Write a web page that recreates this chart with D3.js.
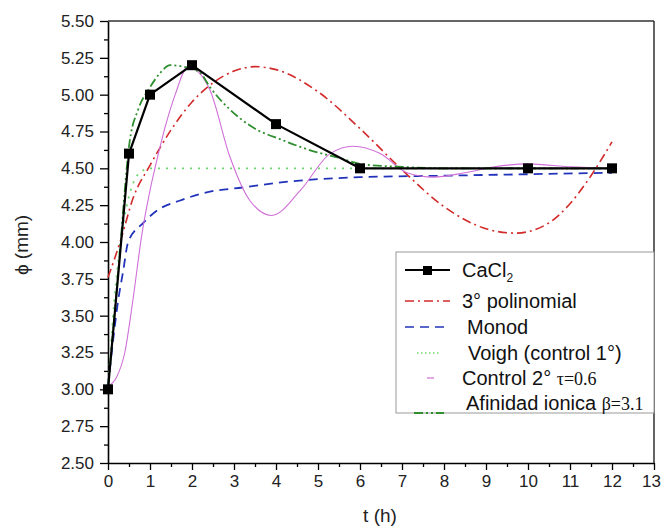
<!DOCTYPE html>
<html>
<head>
<meta charset="utf-8">
<script src="https://cdn.jsdelivr.net/npm/d3@7"></script>
<style>
  body { margin: 0; background: #fff; }
  text { font-family: "Liberation Sans", Arial, sans-serif; }
</style>
</head>
<body>
<div id="chart"></div>
<script>
// values
var tCa = [0, 0.5, 1, 2, 4, 6, 10, 12];
var phiCa = [3.00, 4.60, 5.00, 5.20, 4.80, 4.50, 4.50, 4.50];

var tPoly = [0, 0.3, 0.6, 1, 1.5, 2, 2.5, 3, 3.5, 4, 5, 6, 7, 8, 9, 9.7, 10.5, 11, 11.5, 12];
var phiPoly = [3.76, 4.01, 4.30, 4.52, 4.76, 4.95, 5.08, 5.16, 5.19, 5.17, 5.02, 4.77, 4.49, 4.24, 4.09, 4.06, 4.13, 4.26, 4.45, 4.68];

var tMonod = [0, 0.12, 0.24, 0.36, 0.48, 0.84, 1.2, 1.7, 2.4, 3.2, 4.3, 6, 8, 10, 12];
var phiMonod = [3.02, 3.33, 3.60, 3.80, 4.00, 4.13, 4.22, 4.28, 4.34, 4.37, 4.41, 4.44, 4.45, 4.46, 4.47];

var tVoigh = [0, 0.15, 0.3, 0.45, 0.6, 0.8, 1, 2, 4, 6, 8, 10, 12];
var phiVoigh = [3.00, 3.60, 4.00, 4.25, 4.40, 4.48, 4.50, 4.50, 4.50, 4.50, 4.50, 4.50, 4.50];

var tCtrl2 = [0, 0.2, 0.4, 0.6, 0.8, 1.0, 1.2, 1.4, 1.6, 1.9, 2.2, 2.43, 2.9, 3.38, 3.9, 4.58, 5.29, 5.84, 6.48, 7.12, 7.75, 8.5, 9.2, 10, 11, 12];
var phiCtrl2 = [3.02, 3.08, 3.25, 3.62, 4.04, 4.35, 4.60, 4.82, 5.00, 5.19, 5.14, 5.03, 4.58, 4.28, 4.18, 4.35, 4.60, 4.65, 4.60, 4.47, 4.44, 4.47, 4.51, 4.53, 4.51, 4.50];

var tIon = [0, 0.25, 0.52, 0.72, 1.0, 1.25, 1.48, 1.79, 2.19, 2.43, 2.9, 3.38, 4.17, 4.96, 5.52, 6, 7, 8, 10, 12];
var phiIon = [3.00, 3.82, 4.69, 4.90, 5.05, 5.15, 5.20, 5.19, 5.15, 5.05, 4.90, 4.79, 4.69, 4.61, 4.57, 4.53, 4.51, 4.50, 4.50, 4.50];

var xTicks = d3.range(0, 14, 1);
var yTicks = d3.range(2.5, 5.51, 0.25);

var width = 662, height = 527;
var margin = {top: 21, right: 8, bottom: 64, left: 108};

var svg = d3.select("#chart").append("svg")
    .attr("width", width)
    .attr("height", height);

svg.append("rect").attr("width", width).attr("height", height).attr("fill", "#fff");

var x = d3.scaleLinear().domain([0, 13]).range([margin.left, width - margin.right]);
var y = d3.scaleLinear().domain([2.5, 5.5]).range([height - margin.bottom, margin.top]);

// zip helper
function pts(ts, vs) {
    return ts.map(function(t, i){ return [t, vs[i]]; });
}

// axes: minor ticks first, then major with labels
svg.append("g")
    .attr("transform", "translate(0," + y(2.5) + ")")
    .call(d3.axisBottom(x).tickValues(d3.range(0.5, 13, 1)).tickSize(4).tickFormat(""))
    .call(function(g){ g.select(".domain").remove(); g.selectAll("line").attr("stroke-width", 1.3); });

var xAxis = svg.append("g")
    .attr("transform", "translate(0," + y(2.5) + ")")
    .call(d3.axisBottom(x).tickValues(xTicks).tickSize(7).tickSizeOuter(0).tickPadding(5).tickFormat(d3.format("d")));
xAxis.select(".domain").attr("stroke-width", 1.6);
xAxis.selectAll("line").attr("stroke-width", 1.3);
xAxis.selectAll("text").attr("font-size", 17).attr("fill", "#222")
    .attr("font-family", "Liberation Sans, Arial, sans-serif");
// last label sits on the window edge, pull it in a little
xAxis.selectAll("text").filter(function(d){ return d === 13; }).attr("dx", -3);

svg.append("g")
    .attr("transform", "translate(" + x(0) + ",0)")
    .call(d3.axisLeft(y).tickValues(d3.range(2.625, 5.5, 0.25)).tickSize(4).tickFormat(""))
    .call(function(g){ g.select(".domain").remove(); g.selectAll("line").attr("stroke-width", 1.3); });

var yAxis = svg.append("g")
    .attr("transform", "translate(" + x(0) + ",0)")
    .call(d3.axisLeft(y).tickValues(yTicks).tickSize(8).tickSizeOuter(0).tickPadding(6).tickFormat(d3.format(".2f")));
yAxis.select(".domain").attr("stroke-width", 1.6);
yAxis.selectAll("line").attr("stroke-width", 1.3);
yAxis.selectAll("text").attr("font-size", 17).attr("fill", "#222")
    .attr("font-family", "Liberation Sans, Arial, sans-serif");

// top and right frame
svg.append("line").attr("x1", x(0)).attr("x2", x(13)).attr("y1", y(5.5)).attr("y2", y(5.5))
    .attr("stroke", "#333").attr("stroke-width", 1.4);
svg.append("line").attr("x1", x(13)).attr("x2", x(13)).attr("y1", y(5.5)).attr("y2", y(2.5))
    .attr("stroke", "#222").attr("stroke-width", 1.4);

// axis titles
svg.append("text")
    .attr("x", 380).attr("y", 522)
    .attr("text-anchor", "middle").attr("font-size", 19).attr("fill", "#222")
    .text("t (h)");

svg.append("text")
    .attr("transform", "translate(28," + 245 + ") rotate(-90)")
    .attr("text-anchor", "middle").attr("font-size", 19).attr("fill", "#222")
    .text("ϕ (mm)");

var smooth = d3.line()
    .x(function(d){ return x(d[0]); })
    .y(function(d){ return y(d[1]); })
    .curve(d3.curveMonotoneX);

var straight = d3.line()
    .x(function(d){ return x(d[0]); })
    .y(function(d){ return y(d[1]); });

var series = [
    {name: "voigh", data: pts(tVoigh, phiVoigh), color: "#6fd66f", width: 1.8, dash: "2,6", gen: smooth},
    {name: "monod", data: pts(tMonod, phiMonod), color: "#2233bb", width: 1.8, dash: "9,6", gen: smooth},
    {name: "poly", data: pts(tPoly, phiPoly), color: "#d22a2a", width: 1.6, dash: "9,4,2,4", gen: smooth},
    {name: "ctrl2", data: pts(tCtrl2, phiCtrl2), color: "#d070d8", width: 1.1, dash: null, gen: smooth},
    {name: "ion", data: pts(tIon, phiIon), color: "#2f8f2f", width: 1.8, dash: "9,3,2,3,2,3", gen: smooth},
    {name: "ca", data: pts(tCa, phiCa), color: "#000", width: 2.2, dash: null, gen: straight}
];

series.forEach(function(s){
    svg.append("path")
        .attr("class", s.name + "-line")
        .attr("d", s.gen(s.data))
        .attr("fill", "none")
        .attr("stroke", s.color)
        .attr("stroke-width", s.width)
        .attr("stroke-dasharray", s.dash)
        .attr("stroke-linejoin", "round");
});

svg.append("g").selectAll("rect")
    .data(pts(tCa, phiCa))
    .enter().append("rect")
    .attr("x", function(d){ return x(d[0]) - 5; })
    .attr("y", function(d){ return y(d[1]) - 5; })
    .attr("width", 10).attr("height", 10)
    .attr("fill", "#000");

// legend
var lg = svg.append("g");
lg.append("rect")
    .attr("x", 396).attr("y", 252).attr("width", x(13) - 396).attr("height", 161)
    .attr("fill", "#fff").attr("stroke", "#999").attr("stroke-width", 1);

function legendText(xp, yp, main, sub, extra) {
    var t = lg.append("text").attr("x", xp).attr("y", yp + 7)
        .attr("font-size", 20).attr("fill", "#111");
    t.append("tspan").text(main);
    if (sub) t.append("tspan").attr("font-size", 12).attr("dy", 5).text(sub);
    if (extra) t.append("tspan").attr("font-family", "Liberation Serif, serif")
        .attr("font-size", 18).text(extra);
}

lg.append("line").attr("x1", 405).attr("x2", 450).attr("y1", 270).attr("y2", 270)
    .attr("stroke", "#000").attr("stroke-width", 2.2);
lg.append("rect").attr("x", 423).attr("y", 266).attr("width", 9).attr("height", 9).attr("fill", "#000");
legendText(462, 270, "CaCl", "2");

lg.append("line").attr("x1", 405).attr("x2", 450).attr("y1", 301).attr("y2", 301)
    .attr("stroke", "#d22a2a").attr("stroke-width", 1.6).attr("stroke-dasharray", "9,4,2,4");
legendText(462, 301, "3° polinomial");

lg.append("line").attr("x1", 405).attr("x2", 450).attr("y1", 327).attr("y2", 327)
    .attr("stroke", "#2233bb").attr("stroke-width", 1.6).attr("stroke-dasharray", "9,6");
legendText(467, 327, "Monod");

lg.append("line").attr("x1", 417).attr("x2", 439).attr("y1", 353).attr("y2", 353)
    .attr("stroke", "#6fd66f").attr("stroke-width", 1.6).attr("stroke-dasharray", "1.5,2.5");
legendText(468, 353, "Voigh (control 1°)");

lg.append("line").attr("x1", 427).attr("x2", 434).attr("y1", 378).attr("y2", 378)
    .attr("stroke", "#d070d8").attr("stroke-width", 1.2);
legendText(462, 378, "Control 2° ", null, "τ=0.6");

lg.append("line").attr("x1", 414).attr("x2", 444).attr("y1", 413).attr("y2", 413)
    .attr("stroke", "#2f8f2f").attr("stroke-width", 1.8).attr("stroke-dasharray", "9,3,2,3,2,3");
legendText(466, 403, "Afinidad ionica ", null, "β=3.1");
</script>
</body>
</html>
